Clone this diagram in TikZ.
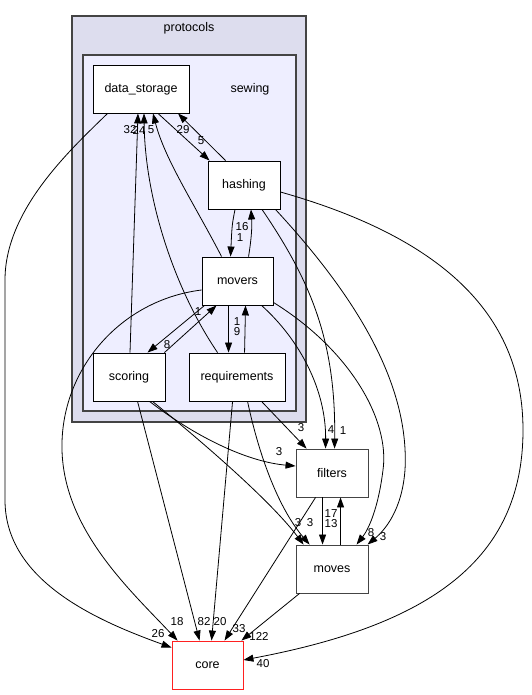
\documentclass[tikz,border=0pt]{standalone}
\usepackage{fontspec}
\setmainfont{Liberation Sans}
\usetikzlibrary{arrows.meta,calc}
\definecolor{clusterA}{HTML}{DDDDEE}
\definecolor{clusterB}{HTML}{EEEEFF}
\definecolor{bordergrey}{HTML}{444444}
\definecolor{corered}{HTML}{FF2020}
\tikzset{
  dirbox/.style={draw=black, fill=white, line width=0.9pt, inner sep=0pt, minimum height=48pt, font=\fontsize{12.5}{14}\selectfont},
  greybox/.style={dirbox, draw=bordergrey},
  redbox/.style={dirbox, draw=corered},
  clusterbox/.style={draw=bordergrey, line width=1.2pt},
  edge/.style={draw=black, line width=0.8pt, -{Triangle[length=10pt,width=7pt]}},
  lbl/.style={inner sep=0pt, font=\fontsize{11.5}{12}\selectfont},
  ctitle/.style={inner sep=0pt, font=\fontsize{12.5}{14}\selectfont}
}
\begin{document}
\begin{tikzpicture}[x=1pt,y=-1pt]
\useasboundingbox (0,0) rectangle (531,695);
% clusters
\draw[clusterbox, fill=clusterA] (72,16) rectangle (306,422);
\node[ctitle] (tprot) at (189,28) {protocols};
\draw[clusterbox, fill=clusterB] (83,55) rectangle (296,411);
\node[ctitle] (tsew) at (250,89) {sewing};
% nodes
\node[dirbox, minimum width=96pt] (ds) at (141,89) {data\_storage};
\node[dirbox, minimum width=72pt] (hashing) at (244,185) {hashing};
\node[dirbox, minimum width=71pt] (movers) at (237.5,281) {movers};
\node[dirbox, minimum width=72pt] (scoring) at (129,377) {scoring};
\node[dirbox, minimum width=96pt] (req) at (237,377) {requirements};
\node[greybox, minimum width=72pt] (filters) at (332,473) {filters};
\node[greybox, minimum width=72pt] (moves) at (332,569) {moves};
\node[redbox, minimum width=71pt] (core) at (207.5,665) {core};
% edges
\draw[edge] ($(ds.south west)+(15,0)$) .. controls (70,150) and (5,210) .. (5,280) -- (5,500) .. controls (5,580) and (95,620) .. ($(core.north west)+(0,7)$);
\draw[edge] ($(scoring.north)+(1,0)$) -- ($(ds.south)+(-3,0)$);
\draw[edge] ($(req.north west)+(29,0)$) .. controls (175,290) and (145,200) .. ($(ds.south)+(3,0)$);
\draw[edge] ($(movers.north west)+(20,0)$) .. controls (195,205) and (165,160) .. ($(ds.south)+(12,0)$);
\draw[edge] ($(hashing.north west)+(18,0)$) -- ($(ds.south)+(37,0)$);
\draw[edge] ($(ds.south)+(17,0)$) -- ($(hashing.north west)+(2,0)$);
\draw[edge] ($(movers.north west)+(47,0)$) .. controls (252,235) and (252,225) .. ($(hashing.south)+(7,0)$);
\draw[edge] ($(hashing.south)+(-9,0)$) .. controls (232,225) .. ($(movers.north west)+(29,0)$);
\draw[edge] ($(movers.south west)+(3,0)$) -- ($(scoring.north west)+(55,0)$);
\draw[edge] ($(scoring.north east)+(-1,0)$) -- ($(movers.south west)+(15,0)$);
\draw[edge] ($(movers.south west)+(27,0)$) -- ($(req.north west)+(40,0)$);
\draw[edge] ($(req.north west)+(56,0)$) -- ($(movers.south west)+(44,0)$);
\draw[edge] ($(movers.west)+(0,9)$) .. controls (120,300) and (60,370) .. (62,450) .. controls (64,530) and (130,590) .. ($(core.north west)+(6,0)$);
\draw[edge] ($(scoring.south west)+(45,0)$) -- ($(core.north west)+(28,0)$);
\draw[edge] ($(req.south west)+(44,0)$) -- ($(core.north west)+(40,0)$);
\draw[edge] ($(filters.south west)+(20,0)$) -- ($(core.north west)+(53,0)$);
\draw[edge] ($(moves.south west)+(4,0)$) -- ($(core.north east)+(-2,0)$);
\draw[edge] ($(hashing.east)+(0,7)$) .. controls (450,240) and (523,320) .. (523,430) .. controls (523,560) and (430,625) .. ($(core.east)+(0,-5)$);
\draw[edge] ($(hashing.south)+(18,0)$) .. controls (310,280) and (336,340) .. ($(filters.north west)+(39,0)$);
\draw[edge] ($(movers.south west)+(60,0)$) .. controls (300,340) and (326,390) .. ($(filters.north west)+(30,0)$);
\draw[edge] ($(req.south west)+(73,0)$) -- ($(filters.north west)+(11,0)$);
\draw[edge] ($(scoring.south west)+(57,0)$) .. controls (200,440) and (250,462) .. ($(filters.west)+(0,-7)$);
\draw[edge] ($(scoring.south west)+(60,0)$) .. controls (200,440) and (270,500) .. ($(moves.north west)+(8,0)$);
\draw[edge] ($(req.south west)+(59,0)$) .. controls (260,460) and (280,510) .. ($(moves.north west)+(14,0)$);
\draw[edge] ($(filters.south west)+(27,0)$) -- ($(moves.north west)+(27,0)$);
\draw[edge] ($(moves.north west)+(45,0)$) -- ($(filters.south west)+(45,0)$);
\draw[edge] ($(movers.south east)+(0,-3)$) .. controls (350,350) and (390,420) .. (383,470) .. controls (378,510) and (368,530) .. ($(moves.north west)+(61,0)$);
\draw[edge] ($(hashing.south east)+(-5,0)$) .. controls (350,290) and (410,380) .. (405,470) .. controls (402,510) and (385,530) .. ($(moves.north west)+(72,0)$);
% labels
\node[lbl] (l26) at (158,634) {26};
\node[lbl] (l32) at (130,130) {32};
\node[lbl] (l24) at (139,130) {24};
\node[lbl] (l5a) at (151,130) {5};
\node[lbl] (l29) at (183,130) {29};
\node[lbl] (l5b) at (201,141) {5};
\node[lbl] (l16) at (242,227) {16};
\node[lbl] (l1a) at (240,238) {1};
\node[lbl] (l1b) at (198,312) {1};
\node[lbl] (l8a) at (167,345) {8};
\node[lbl] (l1c) at (237,322) {1};
\node[lbl] (l9) at (237,332) {9};
\node[lbl] (l18) at (177,622) {18};
\node[lbl] (l82) at (204,622) {82};
\node[lbl] (l20) at (220,622) {20};
\node[lbl] (l33) at (239,629) {33};
\node[lbl] (l122) at (259,636) {122};
\node[lbl] (l40) at (263,664) {40};
\node[lbl] (l3a) at (301,428) {3};
\node[lbl] (l4) at (331,430) {4};
\node[lbl] (l1d) at (343,431) {1};
\node[lbl] (l3b) at (279,452) {3};
\node[lbl] (l3c) at (298,523) {3};
\node[lbl] (l3d) at (310,523) {3};
\node[lbl] (l17) at (331,514) {17};
\node[lbl] (l13) at (331,524) {13};
\node[lbl] (l8b) at (371,533) {8};
\node[lbl] (l3e) at (383,537) {3};
\end{tikzpicture}
\end{document}
